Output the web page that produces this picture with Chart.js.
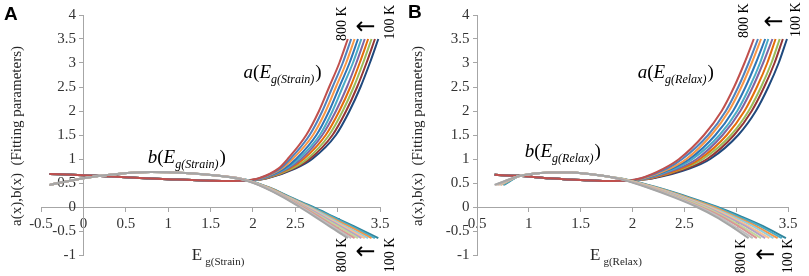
<!DOCTYPE html>
<html>
<head>
<meta charset="utf-8">
<title>a(x), b(x) fitting parameters</title>
<style>
  body { margin: 0; background: #fff; }
  .wrap { position: relative; width: 809px; height: 276px; }
  canvas { position: absolute; top: 0; }
</style>
</head>
<body>
<div class="wrap">
  <canvas id="chartA" width="405" height="276" style="left:0"></canvas>
  <canvas id="chartB" width="404" height="276" style="left:405px"></canvas>
</div>
<script src="https://cdn.jsdelivr.net/npm/chart.js@4.4.6/dist/chart.umd.min.js"></script>
<script>
// y levels shared by every curve after the crossing point
const aLevels = [0.55, 0.6, 0.8, 1.0, 1.5, 2.0, 2.5, 3.0, 3.5]
const bLevels = [0.57, 0.4, 0.2, 0, -0.2, -0.4, -0.65]

// curve rows go 800 K -> 100 K
const aColors = ["#C0504D", "#4F81BD", "#F79646", "#2E75B6", "#4BACC6", "#8064A2", "#E46C0A", "#9BBB59", "#953735", "#1F497D"]
const bColors = ["#A6A6A6", "#BFBFBF", "#D99694", "#C3D69B", "#B3A2C7", "#FAC090", "#93CDDD", "#F79646", "#4BACC6", "#31859C"]

// ---- A : Eg(Strain) ----
const strainAFlat = [[-0.4, 0.69], [0, 0.66], [0.5, 0.62], [1.0, 0.58], [1.4, 0.55], [1.7, 0.54]]
const strainAX = [
  [1.90, 2.07, 2.30, 2.41, 2.63, 2.78, 2.90, 3.02, 3.12],
  [1.91, 2.08, 2.32, 2.44, 2.67, 2.82, 2.94, 3.06, 3.16],
  [1.91, 2.09, 2.34, 2.47, 2.71, 2.86, 2.98, 3.10, 3.20],
  [1.92, 2.10, 2.37, 2.51, 2.75, 2.90, 3.02, 3.14, 3.24],
  [1.92, 2.11, 2.39, 2.54, 2.79, 2.94, 3.06, 3.18, 3.28],
  [1.93, 2.13, 2.41, 2.57, 2.82, 2.98, 3.11, 3.22, 3.32],
  [1.93, 2.14, 2.43, 2.60, 2.86, 3.02, 3.15, 3.26, 3.36],
  [1.94, 2.15, 2.46, 2.64, 2.90, 3.06, 3.19, 3.30, 3.40],
  [1.94, 2.16, 2.48, 2.67, 2.94, 3.10, 3.23, 3.34, 3.44],
  [1.95, 2.17, 2.50, 2.70, 2.98, 3.14, 3.27, 3.38, 3.48],
]
const strainBStart = [-0.4, -0.4, -0.4, -0.4, -0.4, -0.4, -0.4, -0.4, -0.4, -0.4]
const strainBFlat = [[0, 0.6], [0.4, 0.69], [0.8, 0.73], [1.2, 0.71], [1.6, 0.65]]
const strainBX = [
  [1.88, 2.14, 2.36, 2.55, 2.73, 2.90, 3.12],
  [1.88, 2.15, 2.37, 2.57, 2.75, 2.93, 3.16],
  [1.89, 2.15, 2.38, 2.59, 2.78, 2.96, 3.20],
  [1.89, 2.16, 2.39, 2.60, 2.80, 3.00, 3.24],
  [1.90, 2.17, 2.40, 2.62, 2.83, 3.03, 3.28],
  [1.90, 2.17, 2.41, 2.64, 2.85, 3.06, 3.32],
  [1.91, 2.18, 2.42, 2.66, 2.88, 3.09, 3.36],
  [1.91, 2.19, 2.43, 2.67, 2.90, 3.13, 3.40],
  [1.92, 2.19, 2.44, 2.69, 2.93, 3.16, 3.44],
  [1.92, 2.20, 2.45, 2.71, 2.95, 3.19, 3.48],
]

// ---- B : Eg(Relax) ----
const relaxAFlat = [[0.67, 0.67], [0.9, 0.65], [1.2, 0.6], [1.5, 0.56], [1.75, 0.54]]
const relaxAX = [
  [1.95, 2.08, 2.30, 2.45, 2.69, 2.86, 2.98, 3.08, 3.17],
  [1.95, 2.09, 2.33, 2.48, 2.73, 2.90, 3.02, 3.12, 3.21],
  [1.95, 2.11, 2.36, 2.52, 2.76, 2.93, 3.05, 3.15, 3.24],
  [1.96, 2.12, 2.38, 2.55, 2.80, 2.97, 3.09, 3.19, 3.28],
  [1.96, 2.13, 2.41, 2.58, 2.84, 3.01, 3.13, 3.23, 3.31],
  [1.96, 2.15, 2.44, 2.62, 2.87, 3.04, 3.16, 3.26, 3.35],
  [1.96, 2.16, 2.47, 2.65, 2.91, 3.08, 3.20, 3.30, 3.38],
  [1.97, 2.17, 2.49, 2.68, 2.95, 3.12, 3.24, 3.34, 3.42],
  [1.97, 2.19, 2.52, 2.72, 2.98, 3.15, 3.27, 3.37, 3.45],
  [1.97, 2.20, 2.55, 2.75, 3.02, 3.19, 3.31, 3.41, 3.49],
]
const relaxBStart = [0.67, 0.67, 0.68, 0.69, 0.70, 0.71, 0.72, 0.73, 0.75, 0.76]
const relaxBFlat = [[0.9, 0.64], [1.0, 0.68], [1.2, 0.72], [1.4, 0.72], [1.6, 0.68], [1.8, 0.62]]
const relaxBX = [
  [1.90, 2.15, 2.40, 2.62, 2.80, 2.95, 3.12],
  [1.91, 2.16, 2.42, 2.64, 2.83, 2.98, 3.16],
  [1.91, 2.17, 2.43, 2.66, 2.86, 3.02, 3.20],
  [1.92, 2.18, 2.45, 2.69, 2.88, 3.05, 3.24],
  [1.92, 2.19, 2.47, 2.71, 2.91, 3.09, 3.28],
  [1.93, 2.21, 2.48, 2.73, 2.94, 3.12, 3.32],
  [1.93, 2.22, 2.50, 2.75, 2.97, 3.16, 3.36],
  [1.94, 2.23, 2.52, 2.78, 2.99, 3.19, 3.40],
  [1.94, 2.24, 2.53, 2.80, 3.02, 3.23, 3.44],
  [1.95, 2.25, 2.55, 2.82, 3.05, 3.26, 3.48],
]
const bStartY = 0.46

const SERIF = '"Liberation Serif", "Times New Roman", serif'
const AXIS_GREY = "#A6A6A6"
const TEXT_GREY = "#333333"

function toPoints(pairs) {
  return pairs.map(p => ({ x: p[0], y: p[1] }))
}

function buildDatasets(aFlat, aX, bStart, bFlat, bX) {
  const line = color => ({
    borderColor: color,
    borderWidth: 2,
    pointRadius: 0,
    fill: false,
    cubicInterpolationMode: "monotone",
  })
  const out = []
  // dataset 0 is painted last, so b 800 K (grey) sits on top
  bX.forEach((row, i) => {
    const pts = [{ x: bStart[i], y: bStartY }].concat(toPoints(bFlat), row.map((x, k) => ({ x, y: bLevels[k] })))
    out.push(Object.assign({ data: pts }, line(bColors[i])))
  })
  aX.forEach((row, i) => {
    const pts = toPoints(aFlat).concat(row.map((x, k) => ({ x, y: aLevels[k] })))
    out.push(Object.assign({ data: pts }, line(aColors[i])))
  })
  return out
}

function drawMath(ctx, x, y, fn, sub) {
  let cx = x
  const seg = (t, font, dy) => {
    ctx.font = font
    ctx.fillText(t, cx, y + dy)
    cx += ctx.measureText(t).width
  }
  seg(fn, "italic 19px " + SERIF, 0)
  seg("(", "19px " + SERIF, 0)
  seg("E", "italic 19px " + SERIF, 0)
  seg(sub, "italic 12px " + SERIF, 5)
  cx += 1
  seg(")", "19px " + SERIF, 0)
}

const figText = {
  id: "figText",
  afterDraw(chart, args, o) {
    const ctx = chart.ctx
    const xs = chart.scales.x
    const ys = chart.scales.y
    const px = v => xs.getPixelForValue(v)
    const py = v => ys.getPixelForValue(v)
    ctx.save()
    ctx.fillStyle = "#000"
    ctx.textBaseline = "alphabetic"
    ctx.textAlign = "left"

    // panel letter
    ctx.font = 'bold 19px "Liberation Sans", Arial, sans-serif'
    ctx.fillText(o.letter, o.letterPos[0], o.letterPos[1])

    // y title
    ctx.save()
    ctx.translate(o.yTitlePos[0], o.yTitlePos[1])
    ctx.rotate(-Math.PI / 2)
    ctx.textAlign = "center"
    ctx.textBaseline = "middle"
    ctx.fillStyle = "#262626"
    ctx.font = "15px " + SERIF
    ctx.fillText("a(x),b(x)  (Fitting parameters)", 0, 0)
    ctx.restore()

    // x title
    ctx.fillStyle = "#262626"
    ctx.font = "17px " + SERIF
    const ex = px(o.xTitle[0])
    const ey = py(o.xTitle[1])
    ctx.fillText("E", ex, ey)
    const ew = ctx.measureText("E").width
    ctx.font = "11px " + SERIF
    ctx.fillText(o.sub, ex + ew + 3, ey + 5)

    // curve names
    ctx.fillStyle = "#000"
    drawMath(ctx, px(o.aLabel[0]), py(o.aLabel[1]), "a", o.mathSub)
    drawMath(ctx, px(o.bLabel[0]), py(o.bLabel[1]), "b", o.mathSub)

    // temperature markers
    o.temps.forEach(t => {
      ctx.save()
      ctx.translate(px(t.x), py(t.y))
      ctx.textAlign = "center"
      ctx.textBaseline = "middle"
      if (t.arrow) {
        ctx.font = '24px "DejaVu Sans", sans-serif'
        ctx.fillText("\u2190", 0, 0)
      } else {
        ctx.rotate(-Math.PI / 2)
        ctx.font = "14px " + SERIF
        ctx.fillText(t.text, 0, 0)
      }
      ctx.restore()
    })
    ctx.restore()
  },
}

function newChart(id, cfg) {
  const tickFont = { family: SERIF, size: 15 }
  const gridOpts = { display: true, drawOnChartArea: false, drawTicks: true, tickLength: 4, color: AXIS_GREY }
  return new Chart(document.getElementById(id), {
    type: "line",
    data: { datasets: cfg.datasets },
    options: {
      responsive: false,
      animation: false,
      parsing: false,
      layout: { padding: cfg.padding },
      plugins: {
        legend: { display: false },
        tooltip: { enabled: false },
        figText: cfg.text,
      },
      scales: {
        x: {
          type: "linear",
          min: cfg.xMin,
          max: 3.5,
          position: { y: 0 },
          ticks: {
            stepSize: 0.5,
            autoSkip: false,
            maxRotation: 0,
            padding: 4,
            color: TEXT_GREY,
            font: tickFont,
            callback: v => String(Math.round(v * 10) / 10),
          },
          grid: gridOpts,
          border: { display: true, color: AXIS_GREY, width: 1 },
        },
        y: {
          type: "linear",
          min: -1,
          max: 4,
          position: { x: cfg.yAxisAt },
          ticks: {
            stepSize: 0.5,
            autoSkip: false,
            color: TEXT_GREY,
            font: tickFont,
            // en space keeps the label clear of an axis placed inside the plot
            callback: v => String(Math.round(v * 10) / 10) + "\u2002",
          },
          grid: gridOpts,
          border: { display: true, color: AXIS_GREY, width: 1 },
        },
      },
    },
    plugins: [figText],
  })
}

newChart("chartA", {
  datasets: buildDatasets(strainAFlat, strainAX, strainBStart, strainBFlat, strainBX),
  padding: { left: 41, right: 25, top: 15, bottom: 21 },
  xMin: -0.5,
  yAxisAt: 0,
  text: {
    letter: "A",
    letterPos: [4, 20],
    yTitlePos: [17, 136],
    xTitle: [1.28, -1.1],
    sub: "g(Strain)",
    mathSub: "g(Strain)",
    aLabel: [1.89, 2.69],
    bLabel: [0.76, 0.92],
    temps: [
      { text: "800 K", x: 3.06, y: 3.82 },
      { arrow: true, x: 3.33, y: 3.74 },
      { text: "100 K", x: 3.62, y: 3.85 },
      { text: "800 K", x: 3.06, y: -1.0 },
      { arrow: true, x: 3.33, y: -0.95 },
      { text: "100 K", x: 3.62, y: -1.0 },
    ],
  },
})

newChart("chartB", {
  datasets: buildDatasets(relaxAFlat, relaxAX, relaxBStart, relaxBFlat, relaxBX),
  padding: { left: 72, right: 21, top: 15, bottom: 21 },
  xMin: 0.5,
  yAxisAt: 0.5,
  text: {
    letter: "B",
    letterPos: [3, 18],
    yTitlePos: [13, 136],
    xTitle: [1.59, -1.1],
    sub: "g(Relax)",
    mathSub: "g(Relax)",
    aLabel: [2.05, 2.69],
    bLabel: [0.96, 1.04],
    temps: [
      { text: "800 K", x: 3.08, y: 3.88 },
      { arrow: true, x: 3.36, y: 3.83 },
      { text: "100 K", x: 3.58, y: 3.9 },
      { text: "800 K", x: 3.05, y: -1.02 },
      { arrow: true, x: 3.28, y: -1.02 },
      { text: "100 K", x: 3.5, y: -1.02 },
    ],
  },
})
</script>
</body>
</html>
